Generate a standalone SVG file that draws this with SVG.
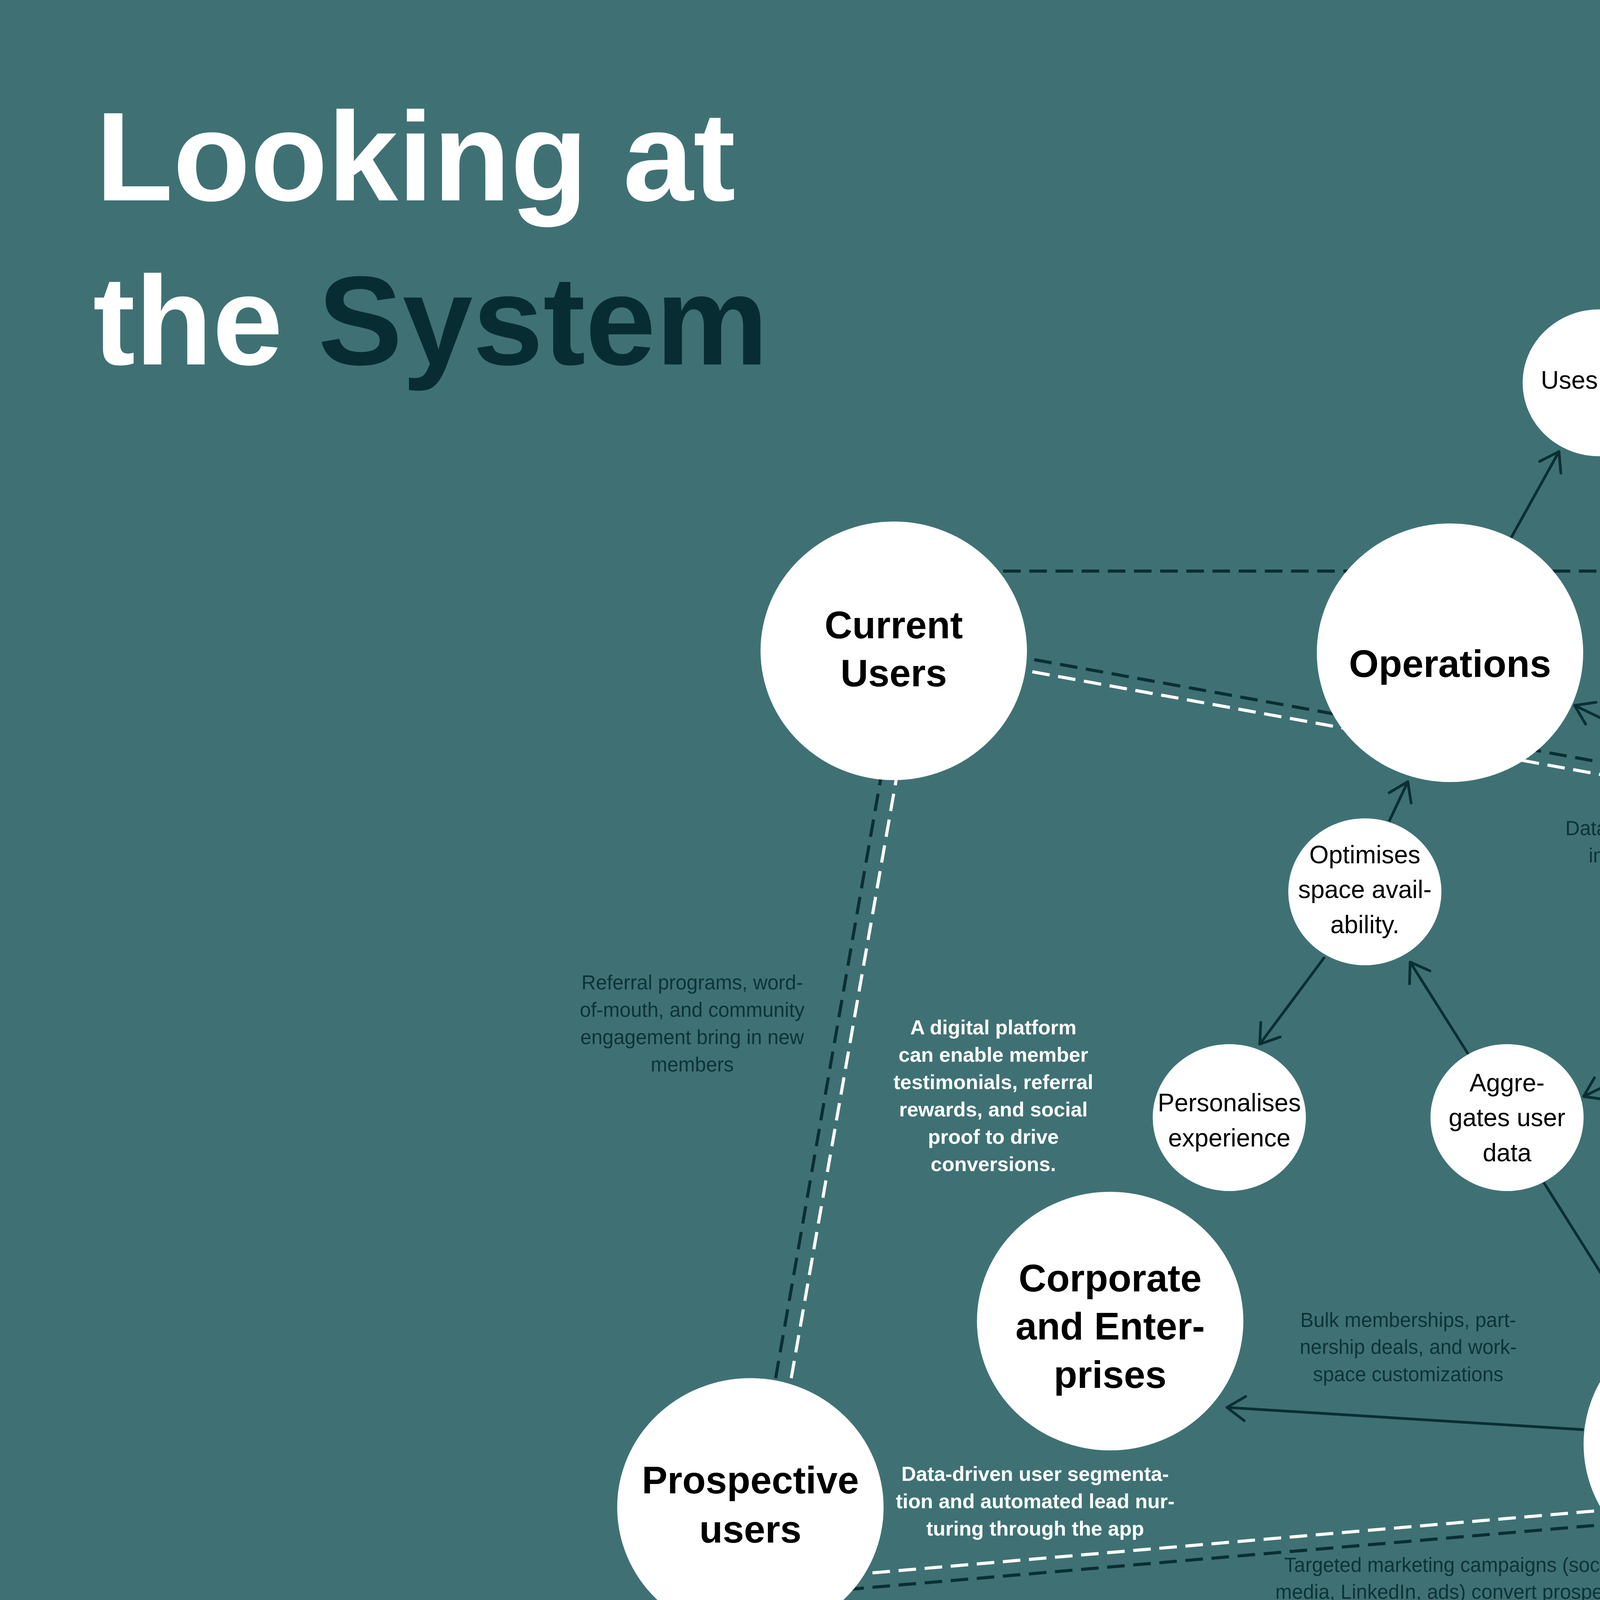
<svg xmlns="http://www.w3.org/2000/svg" width="8000" height="4500" viewBox="0 0 8000 4500">
<defs>
<style>
.bg{fill:#3f7174}
.node ellipse{fill:#ffffff}
.big{font-family:"Liberation Sans",Arial,sans-serif;font-weight:700;font-size:98px;fill:#000;text-anchor:middle}
.sm{font-family:"Liberation Sans",Arial,sans-serif;font-weight:400;font-size:64px;fill:#000;text-anchor:middle}
.annd{font-family:"Liberation Sans",Arial,sans-serif;font-weight:400;font-size:51px;fill:#0d3337;text-anchor:middle}
.annw{font-family:"Liberation Sans",Arial,sans-serif;font-weight:700;font-size:52px;fill:#ffffff;text-anchor:middle}
.title{font-family:"Liberation Sans",Arial,sans-serif;font-weight:700;font-size:324px;fill:#ffffff}
.arrow{fill:none;stroke:#0a2f33;stroke-width:7;marker-end:url(#ah)}
.dd{fill:none;stroke:#0a2f33;stroke-width:8;stroke-dasharray:45 22}
.dw{fill:none;stroke:#ffffff;stroke-width:8;stroke-dasharray:45 22}
</style>
<marker id="ah" viewBox="-60 -40 70 80" refX="0" refY="0" markerWidth="70" markerHeight="80" markerUnits="userSpaceOnUse" orient="auto">
<path d="M-46,-31 L0,0 L-46,31" fill="none" stroke="#0a2f33" stroke-width="7" stroke-linecap="round" stroke-linejoin="round"/>
</marker>
</defs>
<rect class="bg" x="0" y="0" width="8000" height="4500"/>

<g id="title">
<text class="title" x="245" y="513">Looking at</text>
<text class="title" x="238" y="933">the <tspan fill="#072d33">System</tspan></text>
</g>

<g id="connectors">
<line class="dd" x1="2300" y1="1462" x2="6220" y2="1462"/>
<line class="dd" x1="2450" y1="1653" x2="6900" y2="2458"/>
<line class="dw" x1="2445" y1="1684" x2="6895" y2="2489"/>
<line class="dd" x1="2271" y1="1900" x2="1973" y2="3600"/>
<line class="dw" x1="2311" y1="1900" x2="2013" y2="3600"/>
<line class="dw" x1="2100" y1="4038" x2="4200" y2="3858"/>
<line class="dd" x1="2100" y1="4075" x2="4200" y2="3895"/>
<line class="arrow" x1="3866" y1="1381" x2="3991" y2="1156"/>
<line class="arrow" x1="4284" y1="1039" x2="4485" y2="1192"/>
<line class="arrow" x1="4745" y1="1089" x2="4828" y2="874"/>
<line class="arrow" x1="4858" y1="2201" x2="4031" y2="1806"/>
<line class="arrow" x1="5965" y1="1660" x2="5450" y2="2103"/>
<line class="arrow" x1="6447" y1="1694" x2="6886" y2="2210"/>
<line class="arrow" x1="4863" y1="2412" x2="4054" y2="2807"/>
<line class="arrow" x1="4997" y1="2584" x2="4595" y2="3411"/>
<line class="arrow" x1="3759" y1="2699" x2="3610" y2="2463"/>
<line class="arrow" x1="3556" y1="2103" x2="3604" y2="2001"/>
<line class="arrow" x1="3391" y1="2450" x2="3225" y2="2673"/>
<line class="arrow" x1="3952" y1="3027" x2="4202" y2="3424"/>
<line class="arrow" x1="4054" y1="3660" x2="3141" y2="3603"/>
<line class="arrow" x1="4728" y1="3638" x2="4997" y2="3564"/>
<line class="arrow" x1="5304" y1="3686" x2="5517" y2="3897"/>
<line class="arrow" x1="5772" y1="3914" x2="5983" y2="3700"/>
</g>

<g id="annotations">
<text class="annd" x="1772" y="2533">Referral programs, word-</text>
<text class="annd" x="1772" y="2603">of-mouth, and community</text>
<text class="annd" x="1772" y="2673">engagement bring in new</text>
<text class="annd" x="1772" y="2743">members</text>
<text class="annw" x="2543" y="2648">A digital platform</text>
<text class="annw" x="2543" y="2718">can enable member</text>
<text class="annw" x="2543" y="2788">testimonials, referral</text>
<text class="annw" x="2543" y="2858">rewards, and social</text>
<text class="annw" x="2543" y="2928">proof to drive</text>
<text class="annw" x="2543" y="2998">conversions.</text>
<text class="annd" x="4288" y="2138">Data-driven insights help</text>
<text class="annd" x="4288" y="2208">improve conversion</text>
<text class="annd" x="4288" y="2278">strategies.</text>
<text class="annd" x="5466" y="1615">Users interact with the</text>
<text class="annd" x="5466" y="1685">app for space booking,</text>
<text class="annd" x="5466" y="1756">networking, and event</text>
<text class="annd" x="5466" y="1826">discovery.</text>
<text class="annd" x="6230" y="2005">Users engage with</text>
<text class="annd" x="6230" y="2076">community managers for</text>
<text class="annd" x="6230" y="2146">workspace support, net-</text>
<text class="annd" x="6230" y="2217">working, and resolving</text>
<text class="annd" x="6230" y="2287">issues.</text>
<text class="annd" x="6927" y="1862">Support, feedback, and</text>
<text class="annd" x="6927" y="1931">issue resolution.</text>
<text class="annw" x="6084" y="2504">A chatbot-driven support sys-</text>
<text class="annw" x="6084" y="2574">tem or in-app event recom-</text>
<text class="annw" x="6084" y="2645">mendations can enhance en-</text>
<text class="annw" x="6084" y="2715">gagement.</text>
<text class="annw" x="2650" y="3791">Data-driven user segmenta-</text>
<text class="annw" x="2650" y="3861">tion and automated lead nur-</text>
<text class="annw" x="2650" y="3931">turing through the app</text>
<text class="annd" x="3605" y="3397">Bulk memberships, part-</text>
<text class="annd" x="3605" y="3466">nership deals, and work-</text>
<text class="annd" x="3605" y="3536">space customizations</text>
<text class="annd" x="3717" y="4024">Targeted marketing campaigns (social</text>
<text class="annd" x="3717" y="4093">media, LinkedIn, ads) convert prospects</text>
<text class="annd" x="3717" y="4162">into paying users.</text>
<text class="annd" x="5179" y="2979">Smart analytics optimize</text>
<text class="annd" x="5179" y="3049">space utilization and</text>
<text class="annd" x="5179" y="3120">availability</text>
</g>

<g id="current-users" class="node"><ellipse cx="2288" cy="1666" rx="341" ry="331"/><text class="big" x="2288" y="1634">Current</text><text class="big" x="2288" y="1757">Users</text></g>
<g id="operations" class="node"><ellipse cx="3712" cy="1671" rx="341" ry="331"/><text class="big" x="3712" y="1733">Operations</text></g>
<g id="uses-data" class="node"><ellipse cx="4094" cy="980" rx="196" ry="188"/><text class="sm" x="4094" y="995">Uses Data</text></g>
<g id="enhances-user-experiences" class="node"><ellipse cx="4669" cy="1269" rx="196" ry="188"/><text class="sm" x="4669" y="1207">Enhances</text><text class="sm" x="4669" y="1297">User</text><text class="sm" x="4669" y="1386">Experiences</text></g>
<g id="seamless-coworking-operations" class="node"><ellipse cx="4903" cy="701" rx="196" ry="188"/><text class="sm" x="4903" y="634">seamless</text><text class="sm" x="4903" y="725">coworking</text><text class="sm" x="4903" y="813">operations</text></g>
<g id="freelancers" class="node"><ellipse cx="5655" cy="963" rx="196" ry="188"/><text class="sm" x="5655" y="981">freelancers</text></g>
<g id="entrepreneurs" class="node"><ellipse cx="6084" cy="688" rx="196" ry="188"/><text class="sm" x="6084" y="684">Entrepre-</text><text class="sm" x="6084" y="773">neurs</text></g>
<g id="small-teams" class="node"><ellipse cx="6571" cy="723" rx="196" ry="188"/><text class="sm" x="6571" y="724">Small</text><text class="sm" x="6571" y="799">Teams</text></g>
<g id="remote-workers" class="node"><ellipse cx="6879" cy="1162" rx="196" ry="188"/><text class="sm" x="6879" y="1140">Remote</text><text class="sm" x="6879" y="1229">Workers</text></g>
<g id="primary-users" class="node"><ellipse cx="6230" cy="1432" rx="341" ry="331"/><text class="big" x="6230" y="1398">Primary</text><text class="big" x="6230" y="1523">Users</text></g>
<g id="app" class="node"><ellipse cx="5178" cy="2303" rx="341" ry="331"/><text class="big" x="5178" y="2357">App</text></g>
<g id="community-managers" class="node"><ellipse cx="7086" cy="2498" rx="341" ry="331"/><text class="big" x="7086" y="2471">Community</text><text class="big" x="7086" y="2595">Managers</text></g>
<g id="optimises-space-availability" class="node"><ellipse cx="3494" cy="2283" rx="196" ry="188"/><text class="sm" x="3494" y="2210">Optimises</text><text class="sm" x="3494" y="2299">space avail-</text><text class="sm" x="3494" y="2389">ability.</text></g>
<g id="personalises-experience" class="node"><ellipse cx="3147" cy="2861" rx="196" ry="188"/><text class="sm" x="3147" y="2845">Personalises</text><text class="sm" x="3147" y="2935">experience</text></g>
<g id="aggregates-user-data" class="node"><ellipse cx="3858" cy="2861" rx="196" ry="188"/><text class="sm" x="3858" y="2794">Aggre-</text><text class="sm" x="3858" y="2883">gates user</text><text class="sm" x="3858" y="2973">data</text></g>
<g id="corporate-and-enterprises" class="node"><ellipse cx="2842" cy="3382" rx="341" ry="331"/><text class="big" x="2842" y="3306">Corporate</text><text class="big" x="2842" y="3429">and Enter-</text><text class="big" x="2842" y="3553">prises</text></g>
<g id="sales-and-marketing" class="node"><ellipse cx="4395" cy="3697" rx="341" ry="331"/><text class="big" x="4395" y="3667">Sales and</text><text class="big" x="4395" y="3794">Marketing</text></g>
<g id="prospective-users" class="node"><ellipse cx="1921" cy="3859" rx="341" ry="331"/><text class="big" x="1921" y="3823">Prospective</text><text class="big" x="1921" y="3949">users</text></g>
<g id="uses-user-insights" class="node"><ellipse cx="5194" cy="3530" rx="196" ry="188"/><text class="sm" x="5194" y="3510">Uses user</text><text class="sm" x="5194" y="3600">insights</text></g>
<g id="targets-outreach" class="node"><ellipse cx="5628" cy="4062" rx="196" ry="188"/><text class="sm" x="5628" y="4041">Targets out-</text><text class="sm" x="5628" y="4131">reach</text></g>
<g id="converts-prospects" class="node"><ellipse cx="6143" cy="3565" rx="196" ry="188"/><text class="sm" x="6143" y="3490">Converts</text><text class="sm" x="6143" y="3578">prospects into</text><text class="sm" x="6143" y="3667">members.</text></g>
</svg>
